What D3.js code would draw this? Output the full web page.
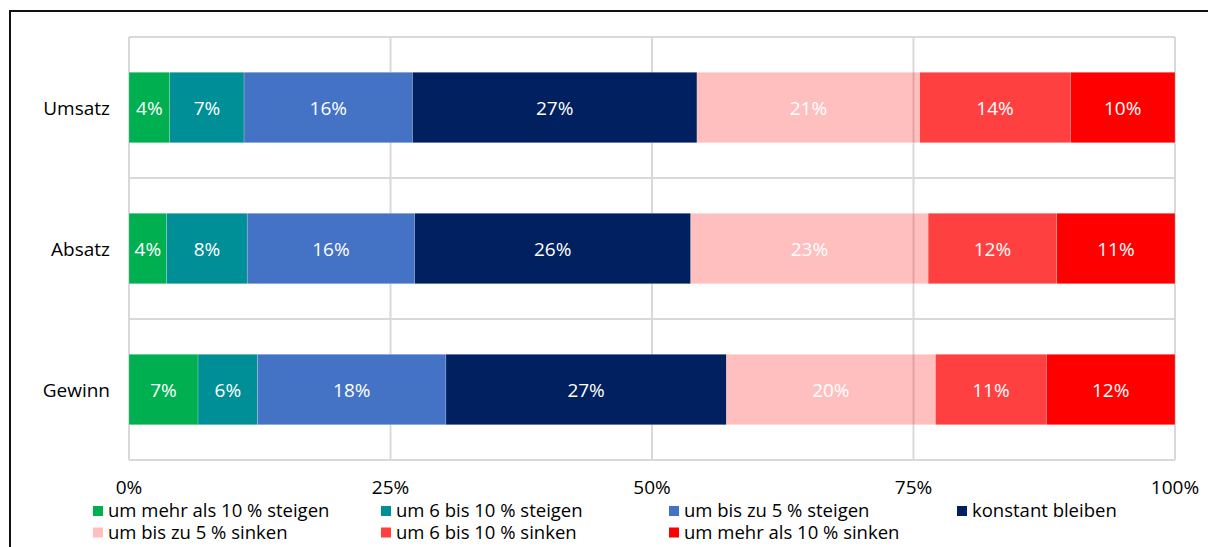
<!DOCTYPE html>
<html>
<head>
<meta charset="utf-8">
<script src="https://cdn.jsdelivr.net/npm/d3@7"></script>
<style>
  body { margin: 0; background: #fff; }
  .chart text { font-family: "Open Sans", sans-serif; font-size: 19px; }
  .chart .legend text { font-size: 18.5px; }
  .grid line { stroke: #d9d9d9; stroke-width: 2; }
</style>
</head>
<body>
<div class="chart"></div>
<script>
var categories = ["Umsatz", "Absatz", "Gewinn"];

var seriesNames = [
  "um mehr als 10 % steigen",
  "um 6 bis 10 % steigen",
  "um bis zu 5 % steigen",
  "konstant bleiben",
  "um bis zu 5 % sinken",
  "um 6 bis 10 % sinken",
  "um mehr als 10 % sinken"
];

// share in % per category, one array per series
var mehr10Steigen = [3.9, 3.6, 6.6];
var sechsBis10Steigen = [7.1, 7.7, 5.7];
var bis5Steigen = [16.1, 16.0, 18.0];
var konstant = [27.2, 26.4, 26.8];
var bis5Sinken = [21.3, 22.7, 20.0];
var sechsBis10Sinken = [14.4, 12.3, 10.6];
var mehr10Sinken = [10.0, 11.3, 12.3];

var tickValues = [0, 25, 50, 75, 100];

var Chart = Chart || {};

Chart.StackedBars = (function(){
  var width = 1208, height = 547;
  var margin = { top: 37, left: 129, right: 33, bottom: 87 };

  var colors = ["#00b050", "#008f96", "#4472c4", "#002060", "#ff0000", "#ff0000", "#ff0000"];
  var opacities = [1, 1, 1, 1, 0.25, 0.75, 1];

  function drawChart() {
    var series = [mehr10Steigen, sechsBis10Steigen, bis5Steigen, konstant,
                  bis5Sinken, sechsBis10Sinken, mehr10Sinken];

    var rows = categories.map(function(c, i) {
      var row = { category: c };
      seriesNames.forEach(function(s, j) { row[s] = series[j][i]; });
      return row;
    });

    var stack = d3.stack().keys(seriesNames)(rows);

    var svg = d3.select(".chart").append("svg")
      .attr("width", width)
      .attr("height", height);

    // outer frame
    svg.append("rect")
      .attr("x", 10).attr("y", 11)
      .attr("width", width + 20).attr("height", height + 20)
      .attr("fill", "none")
      .attr("stroke", "#111")
      .attr("stroke-width", 2);

    var x = d3.scaleLinear()
      .domain([0, 100])
      .range([margin.left, width - margin.right]);

    var y = d3.scaleBand()
      .domain(categories)
      .range([margin.top, height - margin.bottom]);

    var grid = svg.append("g").attr("class", "grid");

    grid.selectAll("line.v")
      .data(tickValues)
      .enter().append("line")
        .attr("class", "v")
        .attr("x1", d => x(d)).attr("x2", d => x(d))
        .attr("y1", margin.top).attr("y2", height - margin.bottom);

    var bounds = categories.map(c => y(c)).concat([y.range()[1]]);
    grid.selectAll("line.h")
      .data(bounds)
      .enter().append("line")
        .attr("class", "h")
        .attr("x1", x(0)).attr("x2", x(100))
        .attr("y1", d => d).attr("y2", d => d);

    var barH = y.bandwidth() * 0.5;

    var layer = svg.append("g")
      .selectAll("g")
      .data(stack)
      .enter().append("g")
        .attr("fill", (d, i) => colors[i])
        .attr("fill-opacity", (d, i) => opacities[i]);

    layer.selectAll("rect")
      .data(d => d)
      .enter().append("rect")
        .attr("x", d => x(d[0]))
        .attr("width", d => x(d[1]) - x(d[0]))
        .attr("y", d => y(d.data.category) + (y.bandwidth() - barH) / 2)
        .attr("height", barH)
        .attr("stroke", "#fff")
        .attr("stroke-opacity", 0.4)
        .attr("stroke-width", 0.5);

    var labels = svg.append("g")
      .selectAll("g")
      .data(stack)
      .enter().append("g");

    labels.selectAll("text")
      .data(d => d)
      .enter().append("text")
        .attr("x", d => (x(d[0]) + x(d[1])) / 2)
        .attr("y", d => y(d.data.category) + y.bandwidth() / 2 + 1)
        .attr("dy", "0.35em")
        .attr("text-anchor", "middle")
        .attr("fill", "#fff")
        .text(d => Math.round(d[1] - d[0]) + "%");

    svg.append("g")
      .selectAll("text")
      .data(categories)
      .enter().append("text")
        .attr("x", 110)
        .attr("y", d => y(d) + y.bandwidth() / 2 + 1)
        .attr("dy", "0.35em")
        .attr("text-anchor", "end")
        .attr("fill", "#000")
        .text(d => d);

    svg.append("g")
      .selectAll("text")
      .data(tickValues)
      .enter().append("text")
        .attr("x", d => x(d))
        .attr("y", 487)
        .attr("dy", "0.35em")
        .attr("text-anchor", "middle")
        .attr("fill", "#000")
        .text(d => d + "%");

    // legend, 4 columns
    var legend = svg.append("g")
      .attr("class", "legend")
      .selectAll("g")
      .data(seriesNames)
      .enter().append("g")
        .attr("transform", (d, i) => "translate(" + (93 + (i % 4) * 288) + "," + (511 + Math.floor(i / 4) * 21.5) + ")");

    legend.append("rect")
      .attr("x", 0).attr("y", -5)
      .attr("width", 10).attr("height", 10)
      .attr("fill", (d, i) => colors[i])
      .attr("fill-opacity", (d, i) => opacities[i]);

    legend.append("text")
      .attr("x", 15)
      .attr("dy", "0.35em")
      .attr("fill", "#000")
      .text(d => d);
  }

  return {
    draw: function() {
      return drawChart();
    }
  };
})();

Chart.StackedBars.draw();
</script>
</body>
</html>
